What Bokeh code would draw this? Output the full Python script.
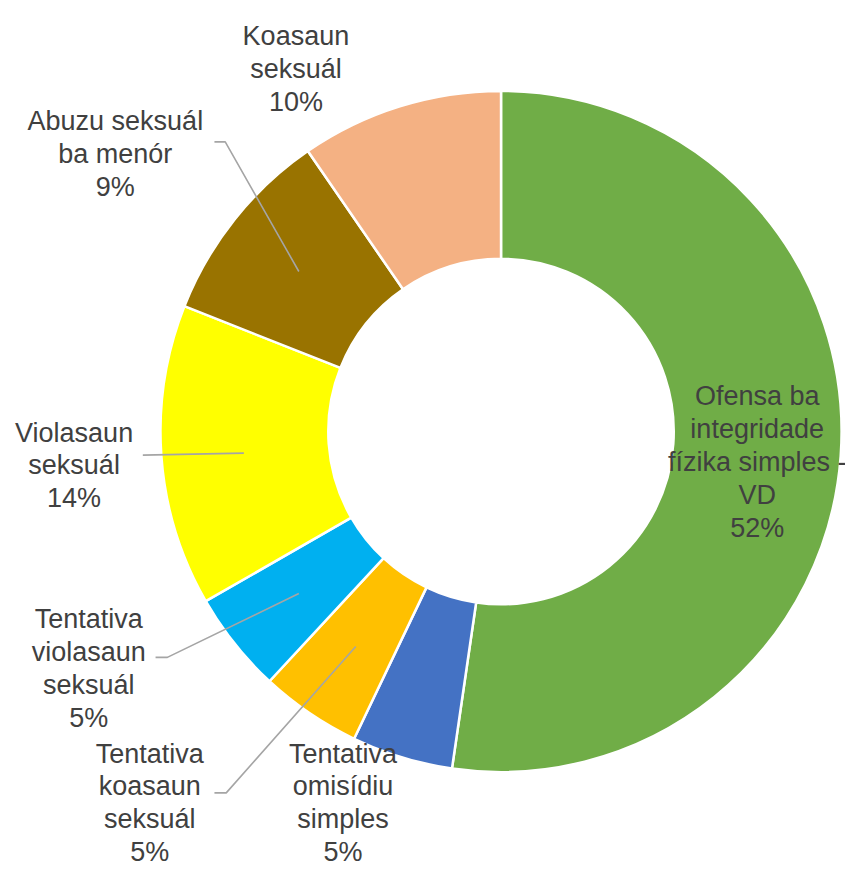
import numpy as np
from bokeh.plotting import figure
from bokeh.models import Range1d, ColumnDataSource
from bokeh.core.properties import value
from bokeh.embed import file_html
from bokeh.resources import INLINE

# ---- data (clockwise from 12 o'clock) ----
categories = [
    "Ofensa ba\nintegridade\nfízika simples -\nVD",
    "Tentativa\nomisídiu\nsimples",
    "Tentativa\nkoasaun\nseksuál",
    "Tentativa\nviolasaun\nseksuál",
    "Violasaun\nseksuál",
    "Abuzu seksuál\nba menór",
    "Koasaun\nseksuál",
]
shares = [52.3, 4.8, 4.8, 4.8, 14.3, 9.4, 9.6]
colors = ["#70AD47", "#4472C4", "#FFC000", "#00B0F0", "#FFFF00", "#997300", "#F4B183"]

# ---- layout (reference pixel coordinates; y measured downward) ----
REF_W, REF_H = 861, 882
CX, CY = 510, 439
R_OUT, R_IN = 347, 176
LINE_STEP = 33.5
label_anchor = [(771, 403), (349, 767), (152, 767), (90, 630), (75, 440), (117, 123), (301, 36)]
leaders = [
    None,
    None,
    [(218, 807), (230, 807), (362, 658)],
    [(158, 669), (170, 669), (304, 604)],
    [(145, 463), (248, 461)],
    [(218, 144), (229, 144), (304, 276)],
    None,
]

W, H = 845, 866
p = figure(width=W, height=H, output_backend="svg", toolbar_location=None,
           x_range=Range1d(0, REF_W), y_range=Range1d(-REF_H, 0),
           min_border=0, x_axis_location=None, y_axis_location=None)
p.grid.visible = False
p.outline_line_color = None
p.background_fill_color = "white"
p.border_fill_color = "white"

frac = np.array(shares) / sum(shares)
cum = np.concatenate([[0], np.cumsum(frac)])
start = np.pi / 2 - 2 * np.pi * cum[:-1]
end = np.pi / 2 - 2 * np.pi * cum[1:]

src = ColumnDataSource(dict(start=start, end=end, color=colors))
p.annular_wedge(x=CX, y=-CY, inner_radius=R_IN, outer_radius=R_OUT,
                start_angle="start", end_angle="end", direction="clock",
                fill_color="color", line_color="white", line_width=2.5, source=src)

# leader lines
lx, ly = [], []
for ld in leaders:
    if ld:
        lx.append([pt[0] for pt in ld])
        ly.append([-pt[1] for pt in ld])
p.multi_line(xs=lx, ys=ly, line_color="#A5A5A5", line_width=1.6)

# labels: one row per text line
tx, ty, tt = [], [], []
for cat, s, (ax, ay) in zip(categories, shares, label_anchor):
    lines = cat.split("\n") + [f"{round(s)}%"]
    for i, ln in enumerate(lines):
        tx.append(ax)
        ty.append(-(ay + i * LINE_STEP))
        tt.append(ln)
p.text(x=tx, y=ty, text=tt, text_font=value("Liberation Sans"), text_font_size="27px",
       text_color="#404040", text_align="center", text_baseline="alphabetic")

open("out.html", "w").write(file_html(p, INLINE))
